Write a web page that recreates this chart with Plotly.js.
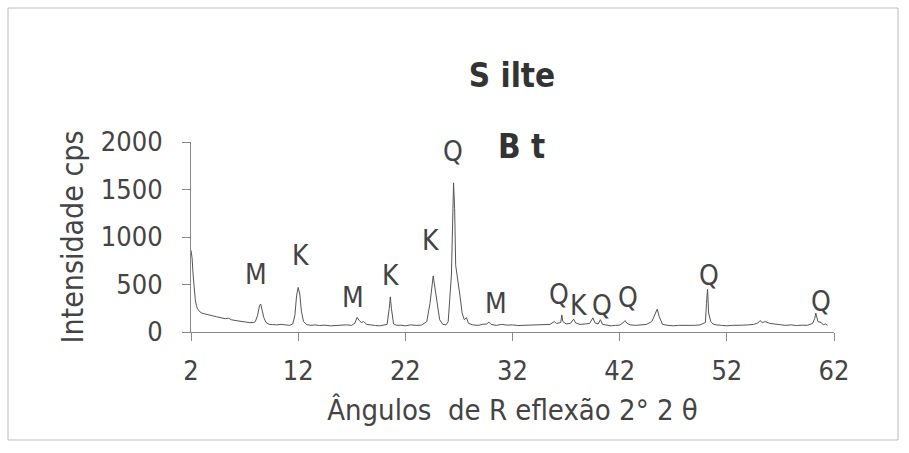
<!DOCTYPE html>
<html>
<head>
<meta charset="utf-8">
<script src="https://cdn.plot.ly/plotly-3.0.1.min.js"></script>
<style>html,body{margin:0;padding:0;background:#fff;}#chart{width:909px;height:453px;}</style>
</head>
<body>
<div id="chart"></div>
<script>
// Diffraction pattern (2θ in degrees, intensity in cps)
const angles = [2.0,2.1,2.2,2.3,2.4,2.5,2.6,2.8,3.0,3.3,3.6,4.0,4.4,4.8,5.2,5.5,5.8,6.2,6.6,7.0,7.4,7.8,
  8.0,8.2,8.4,8.5,8.6,8.8,9.0,9.3,9.6,10.0,10.4,10.8,11.2,11.5,11.7,11.85,12.0,12.15,12.3,12.5,12.8,
  13.2,13.6,14.0,14.5,15.0,15.5,16.0,16.5,17.0,17.3,17.5,17.7,17.9,18.1,18.4,18.8,19.2,19.6,20.0,20.3,
  20.5,20.6,20.7,20.9,21.2,21.6,22.0,22.5,23.0,23.5,24.0,24.3,24.6,24.9,25.2,25.5,25.8,26.0,26.3,26.5,
  26.6,26.7,26.9,27.1,27.3,27.5,27.7,27.9,28.3,28.8,29.2,29.6,29.8,30.0,30.5,31.0,31.5,32.0,32.5,33.0,
  33.5,34.0,34.5,35.0,35.5,35.9,36.1,36.5,36.6,36.7,37.0,37.4,37.7,37.9,38.3,38.8,39.2,39.5,39.7,40.0,
  40.2,40.4,40.8,41.2,41.6,42.0,42.3,42.5,42.7,43.0,43.5,44.0,44.5,45.0,45.3,45.5,45.7,46.0,46.5,47.0,
  47.5,48.0,48.5,49.0,49.5,50.0,50.1,50.2,50.3,50.5,50.7,51.0,51.5,52.0,52.5,53.0,53.5,54.0,54.5,54.9,
  55.1,55.3,55.6,56.0,56.5,57.0,57.5,58.0,58.5,59.0,59.5,60.0,60.2,60.3,60.5,60.8,61.0,61.2,61.4];
const intensity = [860,780,600,450,340,280,245,215,200,190,180,170,160,150,140,145,128,120,112,108,100,98,
  110,170,280,295,250,150,100,80,78,75,80,72,70,85,180,380,470,400,220,110,78,
  70,75,68,72,65,70,68,75,70,95,155,120,100,110,80,70,68,65,70,80,
  250,370,250,85,70,72,65,75,70,72,110,300,590,350,130,80,75,110,600,1570,
  1300,700,560,380,200,130,150,90,75,70,80,85,105,80,70,80,72,75,68,70,
  65,72,70,75,80,110,90,100,180,110,85,90,135,95,80,85,90,150,95,85,
  130,80,70,65,70,72,95,120,90,75,70,72,80,110,200,240,160,80,70,65,
  70,68,72,70,75,100,300,450,200,110,85,75,70,65,70,68,72,75,80,95,
  120,100,110,90,85,80,70,75,68,72,70,90,140,200,110,100,75,85,70];

// Mineral labels
const labelText = ["M","K","M","K","K","Q","M","Q","K","Q","Q","Q","Q"];
const labelX = [8.06,12.26,17.11,20.66,24.39,26.44,30.45,36.33,38.2,40.34,42.76,50.32,60.77];
const labelY = [610,810,358,600,968,1905,305,390,284,284,358,600,316];

const xTicks = [2,12,22,32,42,52,62];
const yTicks = [0,500,1000,1500,2000];

const lightFont = "DejaVu Sans Condensed, Liberation Sans Narrow, DejaVu Sans, sans-serif";
const boldFont = "DejaVu Sans Condensed, Liberation Sans Narrow, DejaVu Sans, sans-serif";

const annotations = labelText.map((t, i) => ({
  x: labelX[i], y: labelY[i], xref: 'x', yref: 'y', text: t, showarrow: false,
  font: {family: lightFont, size: 28, color: '#444'}
}));
annotations.push({
  xref: 'paper', yref: 'paper', x: (521 - 191) / 643, y: (332 - 125) / 190,
  text: 'B t', showarrow: false, font: {family: boldFont, size: 33, color: '#333', weight: 'bold'}
});

const layout = {
  width: 909, height: 453,
  margin: {l: 191, r: 75, t: 142, b: 121},
  paper_bgcolor: '#fff', plot_bgcolor: '#fff',
  showlegend: false,
  title: {text: 'S ilte', x: 512 / 909, xanchor: 'center', y: 1 - 75 / 453, yanchor: 'middle',
    font: {family: boldFont, size: 33, color: '#333', weight: 'bold'}},
  xaxis: {
    range: [2, 62], tickvals: xTicks, ticktext: xTicks.map(String),
    showgrid: false, zeroline: false, showline: true, linecolor: '#888', linewidth: 1,
    ticks: 'outside', ticklen: 8, tickcolor: '#888', ticklabelstandoff: 7,
    tickfont: {family: lightFont, size: 27, color: '#444'},
    title: {text: 'Ângulos  de R eflexão 2° 2 θ', standoff: 14, font: {family: lightFont, size: 29, color: '#444'}}
  },
  yaxis: {
    range: [0, 2000], tickvals: yTicks, ticktext: yTicks.map(String),
    showgrid: false, zeroline: false, showline: true, linecolor: '#888', linewidth: 1,
    ticks: 'outside', ticklen: 8, tickcolor: '#888', ticklabelstandoff: 14,
    tickfont: {family: lightFont, size: 27, color: '#444'},
    title: {text: 'Intensidade cps', standoff: 8, font: {family: lightFont, size: 30, color: '#444'}}
  },
  annotations: annotations,
  shapes: [{
    type: 'rect', xref: 'paper', yref: 'paper',
    x0: (8 - 191) / 643, x1: (898 - 191) / 643, y0: (332 - 440) / 190, y1: (332 - 8) / 190,
    line: {color: '#bbb', width: 1}
  }]
};

Plotly.newPlot('chart', [{
  x: angles, y: intensity, type: 'scatter', mode: 'lines',
  line: {color: '#555', width: 1}, hoverinfo: 'skip'
}], layout, {staticPlot: true});
</script>
</body>
</html>
